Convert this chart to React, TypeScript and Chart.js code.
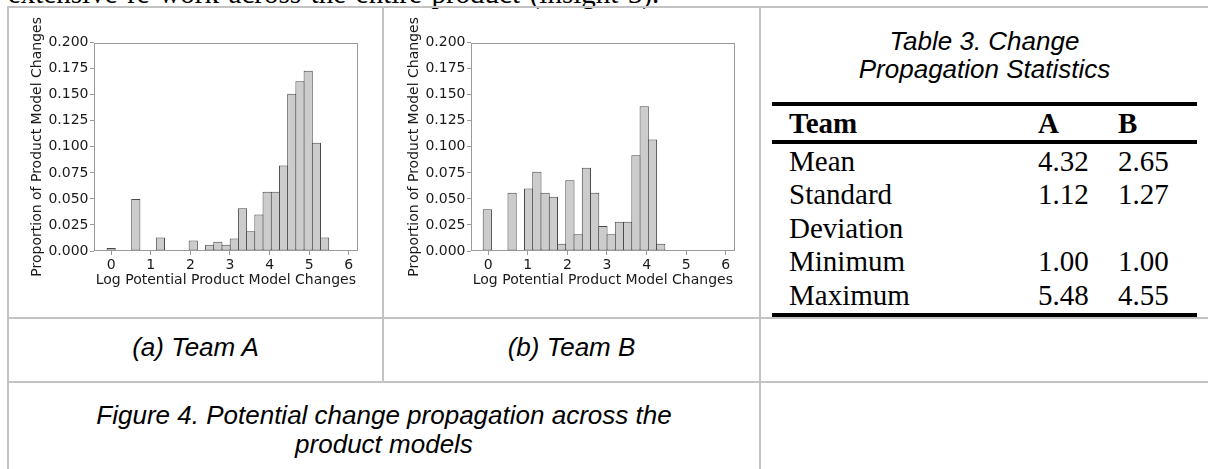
import React, { useEffect, useRef } from 'react';
import { Chart, registerables } from 'chart.js';

Chart.register(...registerables);

// ---------- data ----------
const teamAProportions = [
  0.003, 0, 0, 0.050, 0, 0, 0.013, 0, 0, 0, 0.010, 0, 0.006, 0.009, 0.006,
  0.012, 0.041, 0.019, 0.035, 0.057, 0.057, 0.082, 0.151, 0.163, 0.173, 0.104, 0.013,
];
const teamBProportions = [
  0.040, 0, 0, 0.056, 0, 0.060, 0.076, 0.056, 0.052, 0.007, 0.068, 0.016, 0.080,
  0.056, 0.024, 0.016, 0.028, 0.028, 0.092, 0.139, 0.107, 0.007,
];
const teamABinStart = -0.104;
const teamABinWidth = 0.2073;
const teamBBinStart = -0.126;
const teamBBinWidth = 0.2085;

const xTickValues = [0, 1, 2, 3, 4, 5, 6];
const yTickValues = [0, 0.025, 0.05, 0.075, 0.1, 0.125, 0.15, 0.175, 0.2];
const xAxisMin = -0.434;
const xAxisMax = 6.225;
const yAxisMin = 0;
const yAxisMax = 0.2;
const xAxisTitle = 'Log Potential Product Model Changes';
const yAxisTitle = 'Proportion of Product Model Changes';

const tableTitleLines = ['Table 3. Change', 'Propagation Statistics'];
const tableHeader = ['Team', 'A', 'B'];
const statNames = ['Mean', 'Standard Deviation', 'Minimum', 'Maximum'];
const teamAStats = ['4.32', '1.12', '1.00', '5.48'];
const teamBStats = ['2.65', '1.27', '1.00', '4.55'];

const captionA = '(a) Team A';
const captionB = '(b) Team B';
const figureCaptionLines = ['Figure 4. Potential change propagation across the', 'product models'];
const bodyTextAbove = 'extensive re-work across the entire product (insight 3).';

// ---------- styles ----------
const SPINE = '#9a9a9a';
const TEXT = '#1a1a1a';
const GRIDLINE = '#c3c3c3';
const SANS = '"Liberation Sans", Arial, sans-serif';
const SERIF = '"Liberation Serif", "Times New Roman", serif';
const MPL = '"DejaVu Sans", sans-serif';

function Histogram(props: { values: number[]; binStart: number; binWidth: number; left: number; top: number }) {
  const ref = useRef<HTMLCanvasElement>(null);
  useEffect(() => {
    const { values, binStart, binWidth } = props;
    const points = values.map((v, i) => ({ x: binStart + (i + 0.5) * binWidth, y: v }));
    const framePlugin = {
      id: 'frame',
      afterDraw(chart: any) {
        const { ctx, chartArea: a } = chart;
        ctx.save();
        ctx.strokeStyle = SPINE;
        ctx.lineWidth = 1;
        const l = Math.round(a.left) + 0.5;
        const t = Math.round(a.top) + 0.5;
        const r = Math.round(a.right) - 0.5;
        const b = Math.round(a.bottom) - 0.5;
        ctx.strokeRect(l, t, r - l, b - t);
        ctx.restore();
      },
    };
    const chart = new Chart(ref.current as HTMLCanvasElement, {
      type: 'bar',
      data: {
        datasets: [
          {
            data: points as any,
            backgroundColor: '#cccccc',
            borderColor: '#4a4a4a',
            borderWidth: 1,
            borderSkipped: false,
            barPercentage: 1.12,
            categoryPercentage: 1,
          },
        ],
      },
      options: {
        animation: false,
        responsive: false,
        maintainAspectRatio: false,
        layout: { padding: { left: 19.6, right: 21.3, top: 34.7, bottom: 19.6 } },
        plugins: { legend: { display: false }, tooltip: { enabled: false } },
        scales: {
          x: {
            type: 'linear',
            offset: false,
            min: xAxisMin,
            max: xAxisMax,
            afterBuildTicks: (s: any) => {
              s.ticks = xTickValues.map((v) => ({ value: v }));
            },
            afterFit: (s: any) => {
              s.height = 37.4;
            },
            grid: { display: true, offset: false, drawOnChartArea: false, drawTicks: true, tickLength: 4, color: SPINE, tickColor: SPINE },
            border: { display: false },
            ticks: {
              padding: 2,
              color: TEXT,
              font: { family: MPL, size: 14 },
              maxRotation: 0,
              autoSkip: false,
              callback: (v: any) => String(v),
            },
            title: { display: true, text: xAxisTitle, color: TEXT, font: { family: MPL, size: 14 }, padding: { top: 0, bottom: 0 } },
          },
          y: {
            type: 'linear',
            min: yAxisMin,
            max: yAxisMax,
            afterBuildTicks: (s: any) => {
              s.ticks = yTickValues.map((v) => ({ value: v }));
            },
            afterFit: (s: any) => {
              s.width = 65.4;
            },
            grid: { display: true, drawOnChartArea: false, drawTicks: true, tickLength: 4, color: SPINE, tickColor: SPINE },
            border: { display: false },
            ticks: {
              padding: 1.5,
              color: TEXT,
              font: { family: MPL, size: 14 },
              autoSkip: false,
              callback: (v: any) => Number(v).toFixed(3),
            },
            title: { display: true, text: yAxisTitle, color: TEXT, font: { family: MPL, size: 14 }, padding: { top: 0, bottom: 0 } },
          },
        },
      },
      plugins: [framePlugin],
    });
    return () => chart.destroy();
  }, []);
  return (
    <canvas
      ref={ref}
      width={370}
      height={300}
      style={{ position: 'absolute', left: props.left, top: props.top, width: 370, height: 300 }}
    />
  );
}

function Line(p: { left: number; top: number; width: number; height: number; color?: string }) {
  return (
    <div
      style={{ position: 'absolute', left: p.left, top: p.top, width: p.width, height: p.height, background: p.color || GRIDLINE }}
    />
  );
}

const captionStyle: React.CSSProperties = {
  position: 'absolute',
  textAlign: 'center',
  fontFamily: SANS,
  fontStyle: 'italic',
  fontSize: 26,
  lineHeight: '29px',
  color: '#000',
  whiteSpace: 'nowrap',
};

export default function App() {
  const rowLH = 33.5;
  return (
    <div
      style={{
        position: 'fixed',
        left: 0,
        top: 0,
        width: 1208,
        height: 469,
        overflow: 'hidden',
        background: '#ffffff',
      }}
    >
      {/* cut-off body text above the figure */}
      <div
        style={{
          position: 'absolute',
          left: 8,
          top: -23.5,
          whiteSpace: 'nowrap',
          fontFamily: SERIF,
          fontSize: 29,
          lineHeight: '33.5px',
          wordSpacing: 2.4,
          color: '#000',
        }}
      >
        {bodyTextAbove}
      </div>

      {/* layout grid lines */}
      <Line left={7} top={6} width={1201} height={2} />
      <Line left={7} top={6} width={2} height={463} />
      <Line left={382} top={6} width={2} height={376} />
      <Line left={759} top={6} width={2} height={463} />
      <Line left={7} top={317} width={1201} height={2} />
      <Line left={7} top={381} width={1201} height={2} />

      <Histogram values={teamAProportions} binStart={teamABinStart} binWidth={teamABinWidth} left={9} top={8} />
      <Histogram values={teamBProportions} binStart={teamBBinStart} binWidth={teamBBinWidth} left={386} top={8} />

      {/* table */}
      <div style={{ ...captionStyle, left: 761, top: 27, width: 447, lineHeight: '28px' }}>
        {tableTitleLines.map((t, i) => (
          <div key={i}>{t}</div>
        ))}
      </div>
      <Line left={772} top={102} width={425} height={4} color="#000" />
      <Line left={772} top={140} width={425} height={4} color="#000" />
      <Line left={772} top={313} width={425} height={4} color="#000" />
      <div
        style={{
          position: 'absolute',
          left: 789,
          top: 106.5,
          width: 400,
          height: rowLH,
          fontFamily: SERIF,
          fontWeight: 'bold',
          fontSize: 29,
          lineHeight: `${rowLH}px`,
          color: '#000',
        }}
      >
        <span style={{ position: 'absolute', left: 0 }}>{tableHeader[0]}</span>
        <span style={{ position: 'absolute', left: 249 }}>{tableHeader[1]}</span>
        <span style={{ position: 'absolute', left: 329 }}>{tableHeader[2]}</span>
      </div>
      <div
        style={{
          position: 'absolute',
          left: 789,
          top: 144.5,
          width: 400,
          fontFamily: SERIF,
          fontSize: 29,
          lineHeight: `${rowLH}px`,
          color: '#000',
        }}
      >
        {statNames.map((name, i) => (
          <div key={name} style={{ display: 'flex' }}>
            <div style={{ width: 200 }}>{name}</div>
            <div style={{ position: 'relative', width: 200 }}>
              <span style={{ position: 'absolute', left: 49 }}>{teamAStats[i]}</span>
              <span style={{ position: 'absolute', left: 129 }}>{teamBStats[i]}</span>
            </div>
          </div>
        ))}
      </div>

      {/* captions */}
      <div style={{ ...captionStyle, left: 8, top: 333, width: 375 }}>{captionA}</div>
      <div style={{ ...captionStyle, left: 383, top: 333, width: 377 }}>{captionB}</div>
      <div style={{ ...captionStyle, left: 8, top: 400.5, width: 752 }}>
        {figureCaptionLines.map((t, i) => (
          <div key={i}>{t}</div>
        ))}
      </div>
    </div>
  );
}
